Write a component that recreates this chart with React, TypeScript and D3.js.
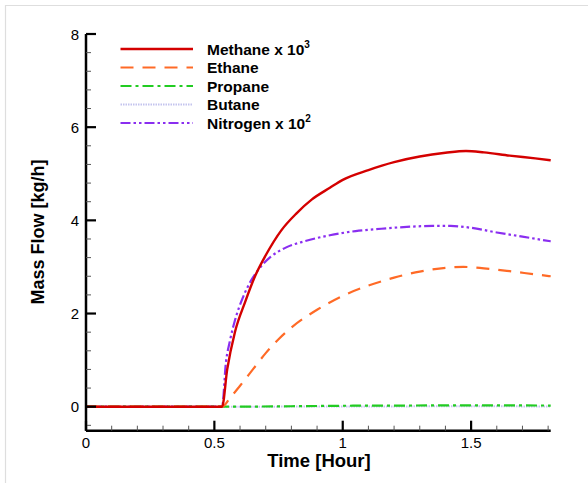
import React from "react";
import * as d3 from "d3";

const methaneT = [0, 0.53, 0.55, 0.58, 0.62, 0.66, 0.7, 0.76, 0.82, 0.88, 0.95, 1.0, 1.1, 1.2, 1.3, 1.4, 1.48, 1.55, 1.65, 1.75, 1.81];
const methaneV = [0, 0, 0.8, 1.6, 2.25, 2.82, 3.25, 3.78, 4.15, 4.45, 4.7, 4.87, 5.08, 5.25, 5.37, 5.45, 5.49, 5.46, 5.39, 5.33, 5.29];

const ethaneT = [0, 0.53, 0.56, 0.6, 0.65, 0.7, 0.75, 0.8, 0.9, 1.0, 1.1, 1.2, 1.3, 1.4, 1.47, 1.55, 1.65, 1.75, 1.81];
const ethaneV = [0, 0, 0.18, 0.45, 0.8, 1.15, 1.45, 1.7, 2.08, 2.38, 2.6, 2.77, 2.9, 2.98, 3.0, 2.97, 2.91, 2.84, 2.8];

const propaneT = [0, 0.53, 0.8, 1.0, 1.25, 1.5, 1.81];
const propaneV = [0, 0, 0.01, 0.02, 0.025, 0.03, 0.025];

const butaneT = [0, 0.53, 1.0, 1.5, 1.81];
const butaneV = [0, 0, 0.005, 0.008, 0.006];

const nitrogenT = [0, 0.53, 0.545, 0.56, 0.58, 0.61, 0.64, 0.68, 0.72, 0.78, 0.85, 0.95, 1.05, 1.15, 1.25, 1.35, 1.42, 1.5, 1.6, 1.7, 1.81];
const nitrogenV = [0, 0, 0.95, 1.4, 1.85, 2.33, 2.68, 3.0, 3.22, 3.42, 3.55, 3.68, 3.77, 3.82, 3.86, 3.88, 3.88, 3.84, 3.74, 3.65, 3.55];

const xMajorTicks = [0, 0.5, 1, 1.5];
const xTickLabels = ["0", "0.5", "1", "1.5"];
const yMajorTicks = [0, 2, 4, 6, 8];
const yTickLabels = ["0", "2", "4", "6", "8"];

type Series = {
  name: string;
  sup?: string;
  t: number[];
  v: number[];
  color: string;
  width: number;
  dash: string;
};

const series: Series[] = [
  { name: "Methane x 10", sup: "3", t: methaneT, v: methaneV, color: "#d40000", width: 2.4, dash: "" },
  { name: "Ethane", t: ethaneT, v: ethaneV, color: "#ff6a26", width: 2.2, dash: "13,9" },
  { name: "Propane", t: propaneT, v: propaneV, color: "#22cc22", width: 2.2, dash: "11,4,3,4" },
  { name: "Butane", t: butaneT, v: butaneV, color: "#c4c4ee", width: 2, dash: "1.5,1" },
  { name: "Nitrogen x 10", sup: "2", t: nitrogenT, v: nitrogenV, color: "#8a2ef0", width: 2.2, dash: "10,3,2.5,3,2.5,3" },
];

export default function App() {
  const W = 588;
  const H = 483;
  const left = 86;
  const right = 550.7;
  const top = 34;
  const bottom = 430.7;

  const x = d3.scaleLinear().domain([0, 1.81]).range([left, right]);
  const y = d3.scaleLinear().domain([-0.515, 8]).range([bottom, top]);

  const line = d3
    .line<[number, number]>()
    .x((d) => x(d[0]))
    .y((d) => y(d[1]))
    .curve(d3.curveMonotoneX);

  const xMinor = d3.range(0, 1.81, 0.1).filter((v) => Math.abs(v * 2 - Math.round(v * 2)) > 1e-6);
  const yMinor = d3.range(-0.4, 8.0001, 0.4).filter((v) => Math.abs(v / 2 - Math.round(v / 2)) > 1e-6);

  const font = "Arial, 'Liberation Sans', sans-serif";
  const drawOrder = [4, 3, 2, 1, 0];

  return (
    <svg width={W} height={H} style={{ position: "absolute", left: 0, top: 0, background: "#fff" }}>
      <rect x={0} y={0} width={W} height={H} fill="#fff" />
      <line x1={5} y1={5.5} x2={W} y2={5.5} stroke="#dedede" strokeWidth={1.2} />
      <line x1={5.5} y1={5} x2={5.5} y2={H} stroke="#dedede" strokeWidth={1.2} />

      {/* data lines */}
      <g>
        {drawOrder.map((i) => {
          const s = series[i];
          const pts = s.t.map((t, k) => [t, s.v[k]] as [number, number]);
          return (
            <path
              key={s.name}
              d={line(pts) || ""}
              fill="none"
              stroke={s.color}
              strokeWidth={s.width}
              strokeDasharray={s.dash || undefined}
            />
          );
        })}
      </g>

      {/* axes */}
      <g stroke="#000" fill="none">
        <line x1={left} y1={top} x2={left} y2={bottom} strokeWidth={2.5} />
        <line x1={left} y1={bottom} x2={right} y2={bottom} strokeWidth={2.5} />
        {yMajorTicks.map((v) => (
          <line key={"ym" + v} x1={left} x2={left + 10} y1={y(v)} y2={y(v)} strokeWidth={2.2} />
        ))}
        {yMinor.map((v) => (
          <line key={"yn" + v} x1={left} x2={left + 5} y1={y(v)} y2={y(v)} strokeWidth={1} stroke="#555" />
        ))}
        {xMajorTicks.map((v) => (
          <line key={"xm" + v} x1={x(v)} x2={x(v)} y1={bottom} y2={bottom - 10} strokeWidth={2.2} />
        ))}
        {xMinor.map((v) => (
          <line key={"xn" + v} x1={x(v)} x2={x(v)} y1={bottom} y2={bottom - 5} strokeWidth={1} stroke="#555" />
        ))}
      </g>

      {/* tick labels */}
      <g fontFamily={font} fontSize={15} fill="#000">
        {yMajorTicks.map((v, i) => (
          <text key={"yl" + v} x={left - 7} y={y(v) + 5.5} textAnchor="end">
            {yTickLabels[i]}
          </text>
        ))}
        {xMajorTicks.map((v, i) => (
          <text key={"xl" + v} x={x(v)} y={447.5} textAnchor="middle">
            {xTickLabels[i]}
          </text>
        ))}
      </g>

      {/* axis titles */}
      <text x={319} y={467} textAnchor="middle" fontFamily={font} fontSize={18.5} fontWeight="bold">
        Time [Hour]
      </text>
      <text
        transform={`translate(44,232) rotate(-90)`}
        textAnchor="middle"
        fontFamily={font}
        fontSize={18}
        fontWeight="bold"
      >
        Mass Flow [kg/h]
      </text>

      {/* legend */}
      <g fontFamily={font} fontSize={15.5} fontWeight="bold">
        {series.map((s, i) => {
          const ly = 49 + i * 18.5;
          return (
            <g key={"lg" + s.name}>
              <line
                x1={120.5}
                x2={193}
                y1={ly}
                y2={ly}
                stroke={s.color}
                strokeWidth={s.width}
                strokeDasharray={s.dash || undefined}
              />
              <text x={207} y={ly + 5.5}>
                {s.name}
                {s.sup ? (
                  <tspan fontSize={10} dy={-7}>
                    {s.sup}
                  </tspan>
                ) : null}
              </text>
            </g>
          );
        })}
      </g>
    </svg>
  );
}
